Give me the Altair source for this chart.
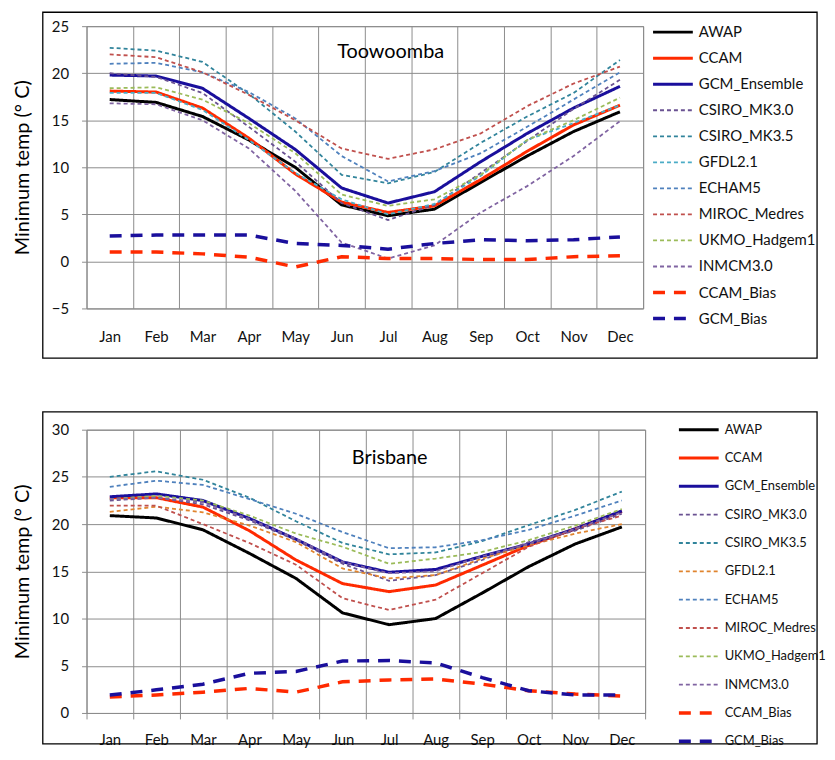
import altair as alt
import pandas as pd

months = ["Jan", "Feb", "Mar", "Apr", "May", "Jun", "Jul", "Aug", "Sep", "Oct", "Nov", "Dec"]
series = ["AWAP", "CCAM", "GCM_Ensemble", "CSIRO_MK3.0", "CSIRO_MK3.5", "GFDL2.1",
          "ECHAM5", "MIROC_Medres", "UKMO_Hadgem1", "INMCM3.0", "CCAM_Bias", "GCM_Bias"]

# Toowoomba
awap_t = [17.2, 16.9, 15.4, 12.9, 10.0, 6.0, 4.85, 5.55, 8.4, 11.2, 13.8, 15.9]
ccam_t = [18.1, 18.0, 16.3, 13.1, 9.3, 6.3, 5.2, 5.9, 8.7, 11.7, 14.5, 16.6]
gcm_t = [19.8, 19.7, 18.4, 15.2, 11.9, 7.8, 6.2, 7.4, 10.6, 13.6, 16.3, 18.6]
csiro30_t = [20.0, 19.6, 17.9, 14.3, 10.6, 6.2, 4.4, 6.0, 9.4, 12.8, 16.2, 19.3]
csiro35_t = [22.7, 22.4, 21.2, 17.8, 13.8, 9.2, 8.3, 9.5, 12.6, 15.4, 17.9, 21.4]
gfdl_t = [17.9, 17.9, 16.1, 12.9, 9.4, 6.6, 5.0, 6.1, 9.1, 12.9, 14.7, 16.6]
echam_t = [21.0, 21.1, 20.1, 18.0, 15.2, 11.2, 8.5, 9.6, 11.5, 14.3, 17.2, 20.1]
miroc_t = [22.0, 21.7, 20.1, 17.7, 15.0, 12.0, 10.9, 11.9, 13.6, 16.5, 18.9, 20.7]
ukmo_t = [18.4, 18.5, 17.2, 14.7, 11.5, 7.1, 5.9, 6.6, 9.2, 12.9, 15.0, 17.4]
inm_t = [16.8, 16.7, 15.0, 12.0, 7.5, 2.0, 0.3, 1.7, 5.2, 8.0, 11.2, 14.9]
ccam_bias_t = [1.0, 1.0, 0.8, 0.45, -0.6, 0.5, 0.3, 0.3, 0.2, 0.2, 0.5, 0.6]
gcm_bias_t = [2.7, 2.8, 2.8, 2.8, 1.9, 1.7, 1.3, 1.9, 2.3, 2.2, 2.3, 2.6]

# Brisbane
awap_b = [20.9, 20.65, 19.4, 16.9, 14.25, 10.6, 9.35, 10.0, 12.7, 15.5, 17.9, 19.7]
ccam_b = [22.8, 22.8, 21.8, 19.3, 16.2, 13.7, 12.85, 13.55, 15.65, 17.75, 19.5, 21.35]
gcm_b = [22.9, 23.2, 22.5, 20.6, 18.4, 16.0, 14.9, 15.2, 16.6, 17.9, 19.5, 21.4]
csiro30_b = [22.5, 22.8, 22.1, 20.4, 18.3, 15.8, 14.0, 14.6, 16.2, 18.1, 19.3, 21.1]
csiro35_b = [25.0, 25.6, 24.7, 22.8, 20.3, 18.0, 16.8, 17.0, 18.2, 19.9, 21.5, 23.45]
gfdl_b = [21.3, 21.85, 21.25, 19.85, 18.1, 15.3, 14.25, 14.6, 16.35, 17.75, 19.0, 20.0]
echam_b = [23.95, 24.6, 24.15, 22.65, 21.1, 19.15, 17.45, 17.55, 18.3, 19.4, 20.9, 22.5]
miroc_b = [21.95, 21.95, 20.0, 18.0, 15.7, 12.15, 10.9, 12.0, 14.8, 17.6, 19.5, 20.9]
ukmo_b = [22.65, 23.0, 22.5, 20.9, 19.0, 17.6, 15.8, 16.35, 17.05, 18.3, 19.85, 21.6]
inm_b = [22.65, 22.8, 22.3, 20.55, 18.45, 16.0, 14.8, 15.0, 16.6, 17.9, 19.5, 21.25]
ccam_bias_b = [1.7, 1.9, 2.2, 2.6, 2.2, 3.3, 3.5, 3.6, 3.05, 2.35, 2.0, 1.8]
gcm_bias_b = [1.9, 2.45, 3.05, 4.2, 4.4, 5.5, 5.55, 5.3, 3.75, 2.35, 1.9, 1.9]

colors_top = ["#000000", "#ff2a00", "#1a0f9c", "#6a5292", "#31849b", "#4bacc6",
              "#4f81bd", "#c0504d", "#9bbb59", "#8064a2", "#ff2a00", "#1a0f9c"]
colors_bot = ["#000000", "#ff2a00", "#1a0f9c", "#6a5292", "#31849b", "#e0842e",
              "#4f81bd", "#c0504d", "#9bbb59", "#8064a2", "#ff2a00", "#1a0f9c"]
dashes = [[1, 0], [1, 0], [1, 0]] + [[4, 3]] * 7 + [[12, 9], [12, 9]]
widths = [3, 3, 3] + [1.8] * 7 + [3.5, 3.5]

FONT = "Lato"
GRID = "#8c8c8c"


def long_df(vals):
    rows = []
    for s, v in zip(series, vals):
        for m, y in zip(months, v):
            rows.append({"month": m, "series": s, "value": y})
    return pd.DataFrame(rows)


def panel(vals, colors, ymin, ymax, title, w, h, frame, tx, ty, lx, ly, rowpad, lfs, xticks, xpad):
    df = long_df(vals)
    leg = alt.Legend(title=None, orient="none", legendX=lx, legendY=ly,
                     symbolType="stroke", symbolSize=1600, clipHeight=14,
                     rowPadding=rowpad, labelFont=FONT, labelFontSize=lfs,
                     labelColor="#111", labelOffset=4, labelLimit=300, padding=0)
    lines = alt.Chart(df).mark_line().encode(
        x=alt.X("month:N", sort=months,
                scale=alt.Scale(type="band", paddingInner=0, paddingOuter=0),
                axis=alt.Axis(title=None, tickBand="extent", grid=True, gridColor=GRID,
                              gridWidth=1, domain=False, ticks=xticks, tickSize=6,
                              tickColor=GRID, labelAngle=0, labelFont=FONT,
                              labelFontSize=15, labelColor="#111", labelPadding=xpad)),
        y=alt.Y("value:Q", scale=alt.Scale(domain=[ymin, ymax], nice=False, zero=False),
                axis=alt.Axis(values=list(range(ymin, ymax + 1, 5)), title="Minimum temp (° C)",
                              grid=True, gridColor=GRID, gridWidth=1, domain=False,
                              tickColor=GRID, tickSize=5, labelFont=FONT, labelFontSize=15,
                              labelColor="#111", labelPadding=13, titleFont=FONT,
                              titleFontSize=20, titleFontWeight="normal", titleColor="#000",
                              titlePadding=19)),
        color=alt.Color("series:N", scale=alt.Scale(domain=series, range=colors), legend=leg),
        strokeDash=alt.StrokeDash("series:N", scale=alt.Scale(domain=series, range=dashes), legend=leg),
        strokeWidth=alt.StrokeWidth("series:N", scale=alt.Scale(type="ordinal", domain=series, range=widths), legend=leg),
    )
    one = pd.DataFrame({"t": [title]})
    box = alt.Chart(one).mark_rect(fillOpacity=0, stroke="#000", strokeWidth=1.3).encode(
        x=alt.value(frame[0]), x2=alt.value(frame[1]), y=alt.value(frame[2]), y2=alt.value(frame[3]))
    label = alt.Chart(one).mark_text(font=FONT, fontSize=20, color="#000").encode(
        text="t:N", x=alt.value(tx), y=alt.value(ty))
    return alt.layer(box, lines, label).properties(width=w, height=h)


top = panel([awap_t, ccam_t, gcm_t, csiro30_t, csiro35_t, gfdl_t, echam_t, miroc_t,
             ukmo_t, inm_t, ccam_bias_t, gcm_bias_t], colors_top, -5, 25, "Toowoomba",
            560, 284, (-44, 735, -14, 334), 306, 26, 568, -1, 11.2, 15, False, 21)
bot = panel([awap_b, ccam_b, gcm_b, csiro30_b, csiro35_b, gfdl_b, echam_b, miroc_b,
             ukmo_b, inm_b, ccam_bias_b, gcm_bias_b], colors_bot, 0, 30, "Brisbane",
            562, 285, (-44, 735, -18, 316), 305, 29, 594, -7, 14.5, 13, True, 14)

chart = alt.vconcat(top, bot, spacing=50).resolve_scale(
    color="independent", strokeDash="independent", strokeWidth="independent", x="independent", y="independent"
).properties(padding={"left": 4, "top": 0, "right": 0, "bottom": 0}).configure_view(
    stroke="#808080", strokeWidth=1
)

chart.save("out.html", embed_options={"renderer": "svg", "actions": False})
